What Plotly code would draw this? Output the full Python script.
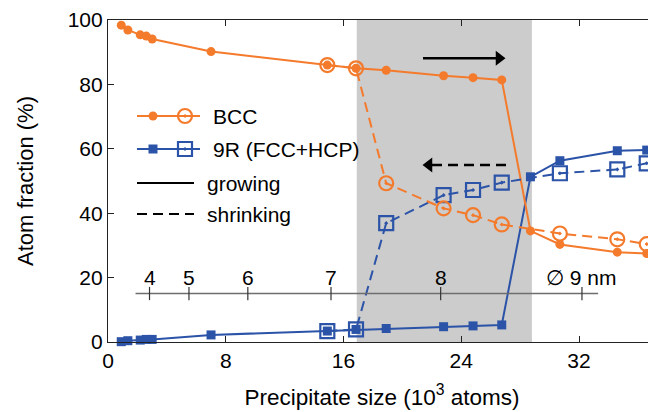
import plotly.graph_objects as go

# ---------------- data ----------------
size_grow = [0.9, 1.35, 2.19, 2.6, 3.0, 7.0, 14.9, 16.85, 18.9, 22.8, 24.8, 26.75, 28.7, 30.7, 34.6, 36.6]
bcc_grow = [98.4, 96.9, 95.4, 95.0, 94.1, 90.2, 86.0, 85.0, 84.4, 82.7, 82.1, 81.4, 34.5, 30.3, 27.9, 27.5]
r9_grow = [0.1, 0.4, 0.6, 0.8, 0.8, 2.2, 3.4, 3.9, 4.2, 4.75, 5.0, 5.3, 51.3, 56.3, 59.4, 59.6]

size_shrink = [14.9, 16.85, 18.9, 22.8, 24.8, 26.75, 30.7, 34.6, 36.6]
bcc_shrink = [86.0, 85.0, 49.3, 41.5, 39.4, 36.5, 33.7, 31.9, 30.4]
r9_shrink = [3.4, 3.9, 36.9, 45.6, 47.2, 49.5, 52.4, 53.6, 55.5]

shade_range = [16.9, 28.8]

# secondary (diameter) scale: positions in 10^3 atoms, labels in nm
diam_pos = [2.82, 5.5, 9.5, 15.15, 22.6, 32.2]
diam_labels = ["4", "5", "6", "7", "8", "\u2205 9 nm"]
diam_line = [1.87, 33.3]
diam_y = 15.1

x_ticks = [0, 8, 16, 24, 32]
y_ticks = [0, 20, 40, 60, 80, 100]

ORANGE = "#F47A2C"
BLUE = "#2B53A7"
FONT = "Liberation Sans, Arial, Helvetica, sans-serif"
FS = 21
FS_TITLE = 22.5
DASH = "10px,6px"

X_MAX = 37.23
# page body has an 8px margin: compensate so the plot lands at the reference pixels
OFF = 8
W, H = 656 - OFF, 412 - OFF
L, T, B = 108 - OFF, 20 - OFF, 70

# pixel (in reference picture) -> data coordinates, for legend / arrow decorations
def dx(px):
    return (px - 108) / (656 - 108) * X_MAX
def dy(py):
    return (342 - py) / (342 - 20) * 100

fig = go.Figure()

# shaded region
fig.add_shape(type="rect", xref="x", yref="paper", x0=shade_range[0], x1=shade_range[1],
              y0=0, y1=1, fillcolor="#CCCCCC", line_width=0, layer="below")

# growing (solid, filled)
fig.add_trace(go.Scatter(x=size_grow, y=r9_grow, mode="lines+markers",
                         line=dict(color=BLUE, width=2),
                         marker=dict(symbol="square", size=9, color=BLUE),
                         cliponaxis=False, showlegend=False))
fig.add_trace(go.Scatter(x=size_grow, y=bcc_grow, mode="lines+markers",
                         line=dict(color=ORANGE, width=2),
                         marker=dict(symbol="circle", size=9, color=ORANGE),
                         cliponaxis=False, showlegend=False))
# shrinking (dashed, open)
fig.add_trace(go.Scatter(x=size_shrink, y=r9_shrink, mode="lines+markers",
                         line=dict(color=BLUE, width=2, dash=DASH),
                         marker=dict(symbol="square-open-dot", size=14, color=BLUE, line=dict(width=2.2)),
                         cliponaxis=False, showlegend=False))
fig.add_trace(go.Scatter(x=size_shrink, y=bcc_shrink, mode="lines+markers",
                         line=dict(color=ORANGE, width=2, dash=DASH),
                         marker=dict(symbol="circle-open-dot", size=14, color=ORANGE, line=dict(width=2.2)),
                         cliponaxis=False, showlegend=False))

# diameter scale
fig.add_shape(type="line", xref="x", yref="y", x0=diam_line[0], x1=diam_line[1],
              y0=diam_y, y1=diam_y, line=dict(color="#6E6E6E", width=1.5))
for p, lab in zip(diam_pos, diam_labels):
    fig.add_shape(type="line", xref="x", yref="y", x0=p, x1=p, y0=diam_y - 2.1, y1=diam_y + 2.0,
                  line=dict(color="#333333", width=1.2))
    fig.add_annotation(x=p, y=diam_y + 4.8, xref="x", yref="y", text=lab, showarrow=False,
                       font=dict(family=FONT, size=FS, color="black"), xanchor="center", yanchor="middle")

# ---------------- decorations ----------------
def pix_line(x0, x1, y, color, dash="solid", width=2.2):
    fig.add_trace(go.Scatter(x=[dx(x0), dx(x1)], y=[dy(y), dy(y)], mode="lines",
                             line=dict(color=color, width=width, dash=dash), showlegend=False,
                             hoverinfo="skip", cliponaxis=False))

def pix_marker(x, y, symbol, size, color, lw=0):
    fig.add_trace(go.Scatter(x=[dx(x)], y=[dy(y)], mode="markers",
                             marker=dict(symbol=symbol, size=size, color=color, line=dict(width=lw, color=color)),
                             showlegend=False, hoverinfo="skip", cliponaxis=False))

def pix_text(x, y, t):
    fig.add_annotation(x=dx(x), y=dy(y), xref="x", yref="y", text=t, showarrow=False, xanchor="left",
                       yanchor="middle", font=dict(family=FONT, size=FS, color="black"))

# arrows (growing -> right, shrinking <- left)
pix_line(423, 496, 58.3, "black", width=2.4)
pix_marker(499, 58.3, "triangle-right", 13, "black")
pix_line(432, 506, 165, "black", dash=DASH, width=2.4)
pix_marker(429, 165, "triangle-left", 13, "black")

# legend
pix_line(137, 200, 116, ORANGE)
pix_marker(153, 116, "circle", 9, ORANGE)
pix_marker(185, 116, "circle-open-dot", 14, ORANGE, 2.2)
pix_text(211, 116, "BCC")

pix_line(137, 200, 149, BLUE)
pix_marker(153, 149, "square", 9, BLUE)
pix_marker(185, 149, "square-open-dot", 14, BLUE, 2.2)
pix_text(211, 149, "9R (FCC+HCP)")

pix_line(137, 194, 183, "black")
pix_text(205, 183, "growing")
pix_line(137, 194, 214, "black", dash=DASH)
pix_text(205, 214, "shrinking")

axis_common = dict(showgrid=False, zeroline=False, showline=True, linecolor="#222222", linewidth=1.2,
                   ticks="inside", ticklen=6, tickcolor="#222222", tickwidth=1.2, mirror="ticks",
                   tickfont=dict(family=FONT, size=FS, color="black"))

fig.update_layout(
    width=W, height=H,
    margin=dict(l=L, r=0, t=T, b=B, autoexpand=False),
    plot_bgcolor="white", paper_bgcolor="white",
    xaxis=dict(range=[0, X_MAX], tickvals=x_ticks,
               title=dict(text="Precipitate size (10<sup>3</sup> atoms)", standoff=17,
                          font=dict(family=FONT, size=FS_TITLE, color="black")),
               **axis_common),
    yaxis=dict(range=[0, 100], tickvals=y_ticks,
               title=dict(text="Atom fraction (%)", standoff=27,
                          font=dict(family=FONT, size=22, color="black")),
               **axis_common),
)

fig.write_html("out.html")
